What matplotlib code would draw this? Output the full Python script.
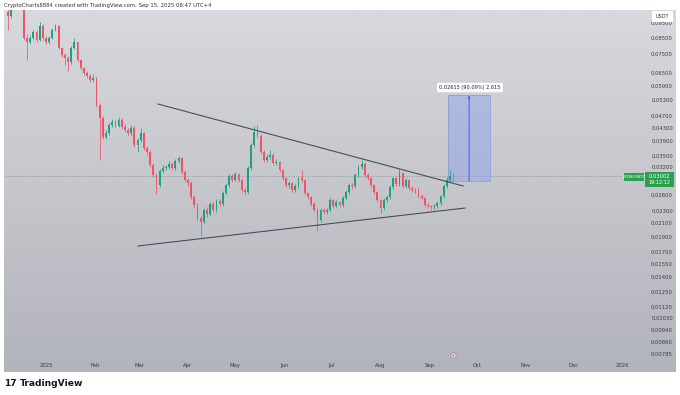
import numpy as np
import matplotlib
matplotlib.use('Agg')
import matplotlib.pyplot as plt
from matplotlib.colors import LinearSegmentedColormap
from matplotlib.patches import Rectangle

# ---------------- data ----------------
first_day = -24          # days relative to 2025-01-01 (Dec 8, 2024)
step_days = 2            # each candle covers two days
first_open = 0.1034
closes = [0.1002, 0.1131, 0.1201, 0.1165, 0.1089, 0.0850, 0.0825, 0.0850, 0.0889, 0.0837,
          0.0930, 0.0850, 0.0825, 0.0850, 0.0903, 0.0930, 0.0789, 0.0748, 0.0731, 0.0709,
          0.0789, 0.0825, 0.0720, 0.0678, 0.0653, 0.0639, 0.0620, 0.0629, 0.0514, 0.0466,
          0.0404, 0.0416, 0.0442, 0.0452, 0.0439, 0.0459, 0.0436, 0.0426, 0.0416, 0.0432,
          0.0380, 0.0395, 0.0416, 0.0372, 0.0361, 0.0327, 0.0303, 0.0281, 0.0313, 0.0320,
          0.0322, 0.0330, 0.0320, 0.0337, 0.0345, 0.0310, 0.0292, 0.0285, 0.0257, 0.0242,
          0.0219, 0.0213, 0.0233, 0.0226, 0.0244, 0.0233, 0.0249, 0.0244, 0.0265, 0.0281,
          0.0301, 0.0292, 0.0305, 0.0292, 0.0271, 0.0267, 0.0320, 0.0380, 0.0420, 0.0407,
          0.0361, 0.0340, 0.0348, 0.0353, 0.0332, 0.0335, 0.0315, 0.0296, 0.0281, 0.0285,
          0.0271, 0.0279, 0.0296, 0.0292, 0.0265, 0.0257, 0.0244, 0.0233, 0.0216, 0.0233,
          0.0230, 0.0233, 0.0251, 0.0240, 0.0247, 0.0242, 0.0255, 0.0267, 0.0281, 0.0279,
          0.0303, 0.0322, 0.0330, 0.0303, 0.0296, 0.0281, 0.0267, 0.0251, 0.0237, 0.0251,
          0.0257, 0.0277, 0.0296, 0.0283, 0.0308, 0.0279, 0.0292, 0.0275, 0.0271, 0.0272,
          0.0259, 0.0255, 0.0242, 0.0240, 0.0238, 0.0240, 0.0246, 0.0259, 0.0279, 0.0292,
          0.0301, 0.03002]
highs = [0.1060, 0.1160, 0.1230, 0.1240, 0.1180, 0.1110, 0.0875, 0.0870, 0.0905, 0.0900,
         0.0960, 0.0945, 0.0862, 0.0860, 0.0915, 0.0945, 0.0935, 0.0795, 0.0760, 0.0740,
         0.0800, 0.0850, 0.0830, 0.0728, 0.0685, 0.0662, 0.0648, 0.0650, 0.0635, 0.0520,
         0.0472, 0.0425, 0.0450, 0.0462, 0.0458, 0.0468, 0.0465, 0.0446, 0.0432, 0.0442,
         0.0438, 0.0402, 0.0432, 0.0420, 0.0378, 0.0366, 0.0332, 0.0308, 0.0318, 0.0326,
         0.0328, 0.0336, 0.0335, 0.0342, 0.0350, 0.0348, 0.0314, 0.0296, 0.0289, 0.0261,
         0.0245, 0.0223, 0.0237, 0.0238, 0.0248, 0.0247, 0.0253, 0.0253, 0.0269, 0.0286,
         0.0306, 0.0306, 0.0310, 0.0309, 0.0295, 0.0275, 0.0325, 0.0386, 0.0440, 0.0442,
         0.0412, 0.0366, 0.0355, 0.0366, 0.0357, 0.0341, 0.0338, 0.0318, 0.0299, 0.0290,
         0.0288, 0.0284, 0.0300, 0.0315, 0.0295, 0.0268, 0.0260, 0.0247, 0.0236, 0.0237,
         0.0237, 0.0237, 0.0255, 0.0254, 0.0252, 0.0250, 0.0259, 0.0271, 0.0286, 0.0286,
         0.0308, 0.0327, 0.0339, 0.0334, 0.0308, 0.0300, 0.0284, 0.0270, 0.0254, 0.0255,
         0.0262, 0.0281, 0.0300, 0.0299, 0.0320, 0.0311, 0.0296, 0.0295, 0.0279, 0.0276,
         0.0275, 0.0263, 0.0258, 0.0246, 0.0243, 0.0244, 0.0249, 0.0262, 0.0283, 0.0298,
         0.0315, 0.0309]
lows = [0.0903, 0.0990, 0.1110, 0.1140, 0.1070, 0.0837, 0.0720, 0.0810, 0.0835, 0.0825,
        0.0830, 0.0840, 0.0810, 0.0815, 0.0842, 0.0895, 0.0780, 0.0738, 0.0694, 0.0662,
        0.0700, 0.0780, 0.0712, 0.0668, 0.0644, 0.0630, 0.0612, 0.0612, 0.0505, 0.0340,
        0.0398, 0.0398, 0.0410, 0.0436, 0.0432, 0.0434, 0.0430, 0.0420, 0.0408, 0.0410,
        0.0374, 0.0361, 0.0390, 0.0366, 0.0352, 0.0322, 0.0298, 0.0263, 0.0278, 0.0308,
        0.0314, 0.0317, 0.0315, 0.0316, 0.0332, 0.0305, 0.0287, 0.0279, 0.0253, 0.0237,
        0.0215, 0.0190, 0.0210, 0.0222, 0.0223, 0.0229, 0.0230, 0.0240, 0.0241, 0.0262,
        0.0278, 0.0288, 0.0289, 0.0288, 0.0267, 0.0261, 0.0264, 0.0316, 0.0375, 0.0400,
        0.0356, 0.0335, 0.0335, 0.0342, 0.0327, 0.0327, 0.0311, 0.0292, 0.0277, 0.0276,
        0.0267, 0.0268, 0.0276, 0.0288, 0.0262, 0.0253, 0.0240, 0.0229, 0.0199, 0.0213,
        0.0226, 0.0226, 0.0230, 0.0236, 0.0237, 0.0238, 0.0239, 0.0252, 0.0264, 0.0274,
        0.0276, 0.0300, 0.0318, 0.0299, 0.0292, 0.0277, 0.0263, 0.0247, 0.0228, 0.0234,
        0.0247, 0.0254, 0.0273, 0.0279, 0.0280, 0.0275, 0.0276, 0.0271, 0.0267, 0.0266,
        0.0256, 0.0251, 0.0239, 0.0236, 0.0234, 0.0235, 0.0237, 0.0243, 0.0256, 0.0276,
        0.0288, 0.0290]

price_ticks = [0.095, 0.085, 0.075, 0.065, 0.059, 0.053, 0.047, 0.043, 0.039, 0.035, 0.032,
               0.026, 0.023, 0.021, 0.019, 0.017, 0.0155, 0.014, 0.0125, 0.0112, 0.0103,
               0.0094, 0.0086, 0.00785]
month_days = [0, 31, 59, 90, 120, 151, 181, 212, 243, 273, 304, 334, 365]
month_labels = ['2025', 'Feb', 'Mar', 'Apr', 'May', 'Jun', 'Jul', 'Aug', 'Sep', 'Oct',
                'Nov', 'Dec', '2026']

upper_line_days = [71.0, 264.3]
upper_line_prices = [0.05175, 0.02794]
lower_line_days = [58.3, 265.5]
lower_line_prices = [0.01780, 0.02367]
measure_days = [254.8, 281.4]
measure_prices = [0.02903, 0.05518]
measure_text = '0.02615 (90.09%) 2,615'
last_price = 0.03002
symbol = 'ROSEUSDT'
countdown = '19:12:12'
event_day = 258

x_range = [-26.6, 399.2]
y_range = [0.0069, 0.10492]

# ---------------- figure ----------------
W, H = 680, 395
fig = plt.figure(figsize=(W / 100, H / 100), dpi=100, facecolor='white')
rect = [4 / W, (H - 372) / H, 672 / W, 362 / H]

bg = fig.add_axes(rect, zorder=0)
cmap = LinearSegmentedColormap.from_list('g', ['#b2b4bb', '#d7d9de'])
bg.imshow(np.linspace(0, 1, 256).reshape(-1, 1)[::-1], cmap=cmap, aspect='auto',
          extent=[0, 1, 0, 1])
bg.set_axis_off()

ax = fig.add_axes(rect, zorder=1)
ax.patch.set_alpha(0)
ax.set_yscale('log')
ax.set_xlim(*x_range)
ax.set_ylim(*y_range)
for s in ax.spines.values():
    s.set_visible(False)
ax.set_xticks([])
ax.set_yticks([])
ax.minorticks_off()


def fx(px):
    return (px - 4) / 672


def fy(py):
    return (372 - py) / 362


RED = '#ee5468'
GREEN = '#1f9f7b'
n = len(closes)
days = np.array([first_day + step_days * i for i in range(n)], dtype=float)
opens = np.array([first_open] + closes[:-1])
c = np.array(closes)
up = c >= opens
cols = np.where(up, GREEN, RED)
ax.vlines(days, lows, highs, colors=cols, lw=0.55, zorder=3)
bottoms = np.minimum(opens, c)
heights = np.maximum(np.abs(c - opens), bottoms * 0.004)
ax.bar(days, heights, bottom=bottoms, width=1.15, color=cols, lw=0, zorder=4)

# last price dotted line
ax.axhline(last_price, color='#7d8088', lw=0.5, ls=(0, (1, 1.5)), zorder=2)

# trend lines
ax.plot(upper_line_days, upper_line_prices, color='#4b4e56', lw=0.8, zorder=5)
ax.plot(lower_line_days, lower_line_prices, color='#4b4e56', lw=0.8, zorder=5)

# measure box
ax.fill_between(measure_days, measure_prices[0], measure_prices[1], color='#8ea4e6',
                alpha=0.5, lw=0, zorder=2)
ax.plot([measure_days[0], measure_days[1], measure_days[1], measure_days[0], measure_days[0]],
        [measure_prices[0], measure_prices[0], measure_prices[1], measure_prices[1], measure_prices[0]],
        color='#8199e0', lw=0.5, zorder=2)
mid = (measure_days[0] + measure_days[1]) / 2
ax.annotate('', xy=(mid, measure_prices[1]), xytext=(mid, measure_prices[0]),
            arrowprops=dict(arrowstyle='-|>', color='#3a62e8', lw=0.7,
                            mutation_scale=3, shrinkA=0, shrinkB=0), zorder=6)
ax.text(fx(470), fy(87.5), measure_text, transform=ax.transAxes, ha='center', va='center',
        fontsize=3.6, color='#222222', zorder=8,
        bbox=dict(boxstyle='round,pad=0.45,rounding_size=0.3', fc='white', ec='none'))

# right axis labels
for p in price_ticks:
    ax.text(fx(662), p, f'{p:.5f}', transform=ax.get_yaxis_transform(), ha='center',
            va='center', fontsize=3.8, color='#3a3c42', zorder=7)

# time axis labels
for d, lab in zip(month_days, month_labels):
    ax.text(d, fy(365.5), lab, transform=ax.get_xaxis_transform(), ha='center',
            va='center', fontsize=3.8, color='#3a3c42', zorder=7)

# USDT box
ax.add_patch(Rectangle((fx(652), fy(22)), fx(673) - fx(652), fy(11) - fy(22),
                       transform=ax.transAxes, fc='white', ec='none', zorder=8))
ax.text(fx(662.5), fy(16.5), 'USDT', transform=ax.transAxes, ha='center', va='center',
        fontsize=3.6, color='#333333', zorder=9)

# price label
ax.add_patch(Rectangle((fx(645), fy(187)), fx(674) - fx(645), fy(172) - fy(187),
                       transform=ax.transAxes, fc='#2aa14f', ec='none', zorder=8))
ax.text(fx(659.5), fy(176), f'{last_price:.5f}', transform=ax.transAxes, ha='center',
        va='center', fontsize=3.7, color='white', zorder=9)
ax.text(fx(659.5), fy(182.5), countdown, transform=ax.transAxes, ha='center',
        va='center', fontsize=3.5, color='white', zorder=9)
ax.add_patch(Rectangle((fx(624), fy(181)), fx(644) - fx(624), fy(173) - fy(181),
                       transform=ax.transAxes, fc='#2aa14f', ec='none', zorder=8))
ax.text(fx(634), fy(177), symbol, transform=ax.transAxes, ha='center', va='center',
        fontsize=3.1, color='white', zorder=9)

# event marker
ax.scatter([event_day], [fy(355)], transform=ax.get_xaxis_transform(), s=14,
           facecolor='#f6dcf3', edgecolor='#c064c4', lw=0.5, zorder=8)
ax.scatter([event_day], [fy(355)], transform=ax.get_xaxis_transform(), s=1.5,
           facecolor='#a03aa8', lw=0, zorder=9)

# header and footer
fig.text(4 / W, 1 - 5 / H, 'CryptoCharts8884 created with TradingView.com, Sep 15, 2025 08:47 UTC+4',
         fontsize=3.9, color='#333333', ha='left', va='center')
fig.text(4 / W, 1 - 383 / H, '17', fontsize=6.5, fontweight='heavy', color='#131722',
         ha='left', va='center')
fig.text(20 / W, 1 - 383 / H, 'TradingView', fontsize=6.6, fontweight='semibold',
         color='#131722', ha='left', va='center')

fig.savefig('out.png', dpi=100, facecolor='white')
